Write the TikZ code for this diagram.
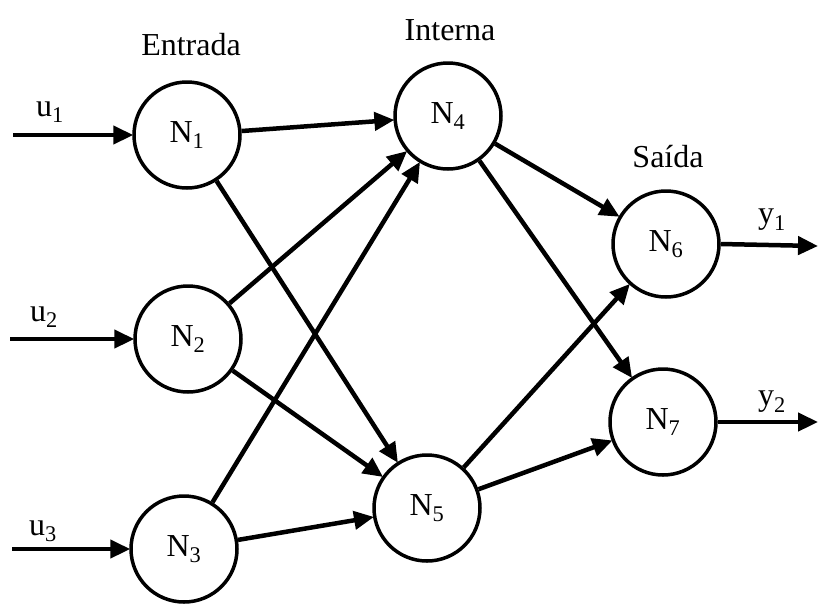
\documentclass[tikz,border=0pt]{standalone}
\usepackage{fontspec}
\setmainfont{Liberation Serif}
\usetikzlibrary{arrows.meta}
\begin{document}
\begin{tikzpicture}[x=1pt,y=-1pt,
  neuron/.style={circle,draw,line width=3.5pt,minimum size=106pt,inner sep=0pt,font=\fontsize{32}{36}\selectfont},
  lbl/.style={font=\fontsize{32}{36}\selectfont,inner sep=0pt},
  conn/.style={line width=4.5pt,-{Triangle[length=20pt,width=18pt]},shorten >=-1pt}]
\useasboundingbox (0,0) rectangle (818,603);
\node[neuron] (n1) at (187,135) {N\textsubscript{1}};
\node[neuron] (n2) at (188,339) {N\textsubscript{2}};
\node[neuron] (n3) at (184,549) {N\textsubscript{3}};
\node[neuron] (n4) at (448,116) {N\textsubscript{4}};
\node[neuron] (n5) at (427,508) {N\textsubscript{5}};
\node[neuron] (n6) at (666,244) {N\textsubscript{6}};
\node[neuron] (n7) at (663,422) {N\textsubscript{7}};
\node[lbl] (t1) at (191,45) {Entrada};
\node[lbl] (t2) at (450,30) {Interna};
\node[lbl] (t3) at (668,157) {Saída};
\node[lbl] (lu1) at (50,112) {u\textsubscript{1}};
\node[lbl] (lu2) at (44,317) {u\textsubscript{2}};
\node[lbl] (lu3) at (43,531) {u\textsubscript{3}};
\node[lbl] (ly1) at (772,220) {y\textsubscript{1}};
\node[lbl] (ly2) at (772,402) {y\textsubscript{2}};
\coordinate (i1) at (13,135);
\coordinate (i2) at (10,339);
\coordinate (i3) at (12,549);
\coordinate (o1) at (817,246);
\coordinate (o2) at (817,422);
\draw[conn] (i1) -- (n1);
\draw[conn] (i2) -- (n2);
\draw[conn] (i3) -- (n3);
\draw[conn] (n1) -- (n4);
\draw[conn] (n1) -- (n5);
\draw[conn] (n2) -- (n4);
\draw[conn] (n2) -- (n5);
\draw[conn] (n3) -- (n4);
\draw[conn] (n3) -- (n5);
\draw[conn] (n4) -- (n6);
\draw[conn] (n4) -- (n7);
\draw[conn] (n5) -- (n6);
\draw[conn] (n5) -- (n7);
\draw[conn] (n6.east) -- (o1);
\draw[conn] (n7.east) -- (o2);
\end{tikzpicture}
\end{document}
